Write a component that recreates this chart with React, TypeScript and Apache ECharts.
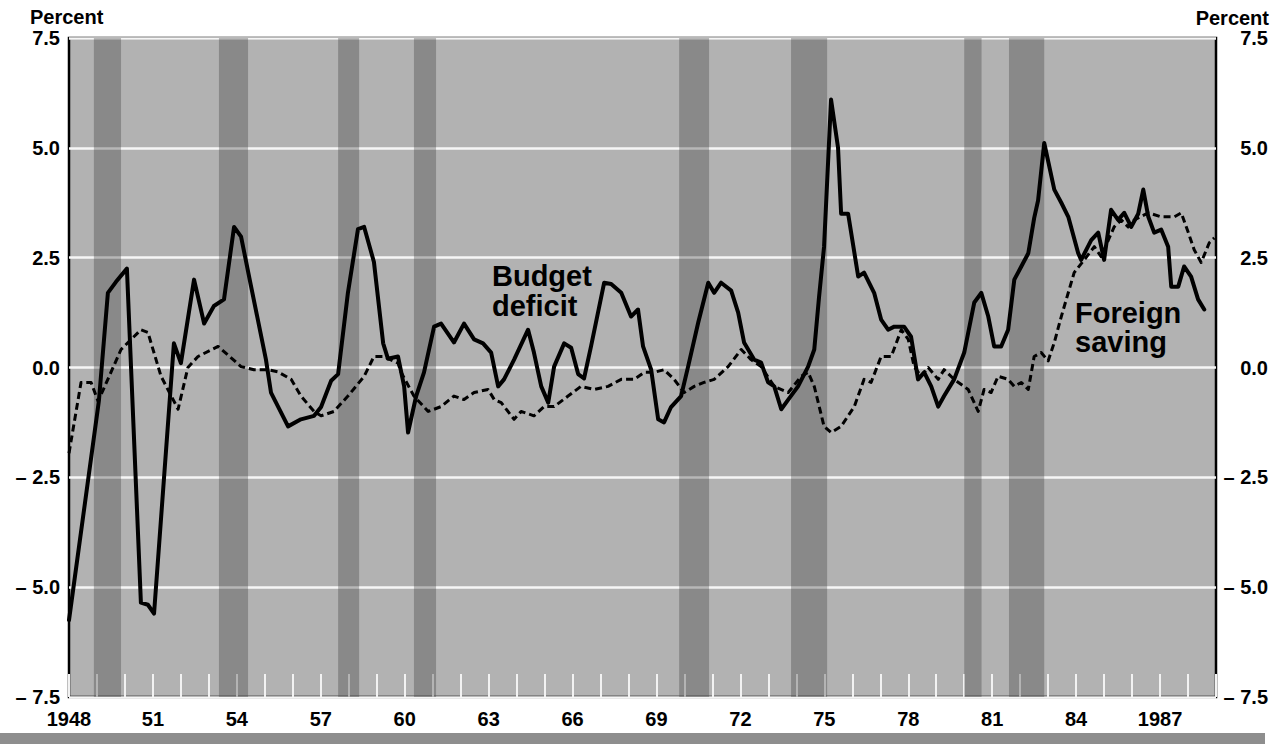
import React, { useEffect, useRef } from "react";
import * as echarts from "echarts";

const deficitYears = [1948.0,1949.07,1949.39,1949.68,1950.07,1950.57,1950.82,1951.04,1951.75,1952.0,
1952.47,1952.83,1953.18,1953.54,1953.9,1954.15,1954.51,1955.04,1955.22,1955.83,
1956.29,1956.76,1957.01,1957.37,1957.62,1957.97,1958.33,1958.55,1958.9,1959.23,
1959.4,1959.76,1959.98,1960.12,1960.41,1960.69,1961.05,1961.3,1961.76,1962.12,
1962.48,1962.8,1963.09,1963.34,1963.55,1963.91,1964.41,1964.62,1964.88,1965.13,
1965.34,1965.7,1965.95,1966.2,1966.41,1966.66,1967.13,1967.38,1967.74,1968.09,
1968.34,1968.52,1968.81,1969.06,1969.27,1969.52,1969.88,1970.13,1970.49,1970.85,
1971.06,1971.31,1971.67,1971.92,1972.13,1972.49,1972.74,1972.99,1973.21,1973.46,
1973.71,1974.06,1974.42,1974.64,1974.81,1974.99,1975.24,1975.49,1975.6,1975.85,
1976.21,1976.42,1976.78,1977.03,1977.28,1977.5,1977.85,1978.1,1978.35,1978.57,
1978.82,1979.07,1979.28,1979.64,1980.0,1980.36,1980.61,1980.86,1981.07,1981.32,
1981.57,1981.79,1982.04,1982.29,1982.5,1982.64,1982.86,1983.22,1983.47,1983.72,
1984.07,1984.18,1984.54,1984.79,1985.0,1985.25,1985.5,1985.72,1985.97,1986.22,
1986.4,1986.58,1986.79,1987.04,1987.29,1987.4,1987.65,1987.86,1988.11,1988.36,
1988.58];

const deficitValues = [-5.75,-0.75,1.7,1.95,2.25,-5.35,-5.4,-5.6,0.55,0.1,
2.0,1.0,1.4,1.55,3.2,2.98,1.84,0.18,-0.57,-1.34,
-1.18,-1.1,-0.9,-0.3,-0.15,1.7,3.15,3.2,2.4,0.55,
0.2,0.25,-0.43,-1.48,-0.65,-0.11,0.93,1.0,0.57,1.0,
0.64,0.55,0.34,-0.43,-0.27,0.18,0.86,0.34,-0.43,-0.8,
0.02,0.55,0.45,-0.15,-0.25,0.48,1.93,1.9,1.7,1.16,
1.32,0.48,-0.05,-1.18,-1.25,-0.9,-0.65,0.02,1.02,1.93,
1.7,1.93,1.75,1.25,0.57,0.18,0.11,-0.34,-0.43,-0.95,
-0.73,-0.43,0.02,0.41,1.6,2.75,6.1,5.0,3.5,3.5,
2.07,2.16,1.7,1.09,0.86,0.93,0.93,0.7,-0.27,-0.11,
-0.43,-0.89,-0.65,-0.27,0.34,1.48,1.7,1.16,0.48,0.48,
0.86,2.0,2.3,2.6,3.4,3.8,5.11,4.05,3.75,3.43,
2.61,2.45,2.9,3.07,2.45,3.59,3.36,3.52,3.2,3.5,
4.05,3.43,3.07,3.14,2.75,1.84,1.84,2.3,2.07,1.55,
1.32];

const savingYears = [1948.0,1948.43,1948.79,1949.04,1949.86,1950.57,1950.82,1951.29,1951.9,1952.25,
1952.61,1953.33,1954.15,1954.61,1955.11,1955.47,1955.94,1956.29,1956.76,1957.01,
1957.47,1957.97,1958.55,1958.9,1959.26,1959.76,1959.87,1960.33,1960.84,1961.3,
1961.76,1962.12,1962.48,1962.98,1963.2,1963.45,1963.91,1964.16,1964.62,1964.98,
1965.34,1965.84,1966.3,1966.77,1967.27,1967.74,1968.2,1968.56,1968.92,1969.27,
1969.63,1969.99,1970.35,1970.7,1971.06,1971.56,1972.03,1972.38,1972.74,1973.21,
1973.71,1974.17,1974.42,1974.64,1974.99,1975.24,1975.6,1976.07,1976.42,1976.67,
1977.03,1977.39,1977.75,1978.0,1978.21,1978.46,1978.71,1979.07,1979.28,1979.64,
1980.14,1980.5,1980.71,1980.96,1981.21,1981.57,1981.79,1982.04,1982.29,1982.5,
1982.75,1983.0,1983.22,1983.47,1983.93,1984.29,1984.65,1984.9,1985.15,1985.36,
1985.61,1985.86,1986.08,1986.58,1987.04,1987.51,1987.76,1988.01,1988.22,1988.47,
1988.76,1988.94];

const savingValues = [-1.95,-0.34,-0.34,-0.77,0.41,0.86,0.8,-0.2,-0.95,0.0,
0.25,0.48,0.02,-0.05,-0.05,-0.1,-0.27,-0.65,-1.0,-1.1,
-1.0,-0.65,-0.2,0.25,0.25,0.1,-0.11,-0.65,-1.0,-0.89,
-0.65,-0.73,-0.57,-0.5,-0.73,-0.8,-1.18,-1.0,-1.1,-0.89,
-0.89,-0.65,-0.43,-0.5,-0.43,-0.27,-0.27,-0.11,-0.11,-0.05,
-0.27,-0.57,-0.43,-0.34,-0.27,0.02,0.41,0.18,0.02,-0.43,
-0.57,-0.2,-0.11,-0.43,-1.34,-1.48,-1.34,-0.89,-0.27,-0.34,
0.25,0.25,0.86,0.64,0.02,-0.2,0.0,-0.27,-0.05,-0.27,
-0.5,-1.0,-0.5,-0.57,-0.2,-0.27,-0.43,-0.34,-0.5,0.25,
0.34,0.15,0.57,1.16,2.16,2.45,2.75,2.52,2.9,3.2,
3.36,3.2,3.36,3.52,3.43,3.43,3.52,3.07,2.68,2.39,
2.84,2.95];

const recessionStarts = [1948.89, 1953.36, 1957.62, 1960.33, 1969.81, 1973.81, 1980.0, 1981.6];
const recessionEnds = [1949.86, 1954.4, 1958.37, 1961.12, 1970.88, 1975.1, 1980.62, 1982.86];

const yearMin = 1948;
const yearMax = 1989;
const longLabelYears = [1948, 1987];

const FONT = '"Liberation Sans", Arial, Helvetica, sans-serif';

function fmtY(v: number): string {
  if (v < 0) return "\u2013 " + Math.abs(v).toFixed(1);
  return v.toFixed(1);
}

export default function App() {
  const ref = useRef<HTMLDivElement>(null);
  useEffect(() => {
    if (!ref.current) return;
    const chart = echarts.init(ref.current, null, { renderer: "svg" });
    const deficitData = deficitYears.map((y, i) => [y, deficitValues[i]]);
    const savingData = savingYears.map((y, i) => [y, savingValues[i]]);
    const bands = recessionStarts.map((s, i) => [{ xAxis: s }, { xAxis: recessionEnds[i] }]);
    const yAxisBase = {
      type: "value",
      min: -7.5,
      max: 7.5,
      interval: 2.5,
      axisLine: { show: false },
      axisTick: { show: false },
    };
    chart.setOption({
      animation: false,
      backgroundColor: "#ffffff",
      textStyle: { fontFamily: FONT },
      grid: {
        left: 69,
        right: 67,
        top: 38,
        bottom: 47,
        show: true,
        backgroundColor: "#b2b2b2",
        borderColor: "#000000",
        borderWidth: 2.5,
        containLabel: false,
      },
      xAxis: {
        type: "value",
        min: yearMin,
        max: yearMax,
        interval: 1,
        axisLine: { show: false, onZero: false },
        splitLine: { show: false },
        axisTick: {
          show: true,
          inside: true,
          length: 23,
          lineStyle: { color: "#f2f2f2", width: 2 },
        },
        axisLabel: {
          margin: 12,
          color: "#000",
          fontSize: 20,
          fontWeight: "bold",
          fontFamily: FONT,
          formatter: (v: number) => {
            const r = Math.round(v);
            if ((r - yearMin) % 3 !== 0 || r > 1987) return "";
            return longLabelYears.indexOf(r) >= 0 ? String(r) : String(r).slice(2);
          },
        },
      },
      yAxis: [
        {
          ...yAxisBase,
          position: "left",
          splitLine: { show: true, lineStyle: { color: "#f6f6f6", width: 2.5 } },
          axisLabel: {
            margin: 9,
            color: "#000",
            fontSize: 20,
            fontWeight: "bold",
            fontFamily: FONT,
            formatter: fmtY,
          },
        },
        {
          ...yAxisBase,
          position: "right",
          splitLine: { show: false },
          axisLabel: {
            margin: 52,
            align: "right",
            color: "#000",
            fontSize: 20,
            fontWeight: "bold",
            fontFamily: FONT,
            formatter: fmtY,
          },
        },
      ],
      series: [
        {
          name: "Budget deficit",
          type: "line",
          data: deficitData,
          showSymbol: false,
          symbol: "none",
          z: 3,
          lineStyle: { color: "#000", width: 4, join: "round", cap: "round" },
          markArea: {
            silent: true,
            z: 1,
            itemStyle: { color: "rgba(55,55,55,0.33)" },
            data: bands,
          },
        },
        {
          name: "Foreign saving",
          type: "line",
          data: savingData,
          showSymbol: false,
          symbol: "none",
          z: 2,
          lineStyle: { color: "#000", width: 3, type: [7, 4], join: "round" },
        },
      ],
      graphic: [
        {
          type: "rect",
          shape: { x: 0, y: 733, width: 1265, height: 11 },
          style: { fill: "#8e8e8e" },
          silent: true,
        },
        {
          type: "text",
          left: 30,
          top: 7,
          style: { text: "Percent", font: `bold 20px ${FONT}`, fill: "#000" },
        },
        {
          type: "text",
          right: 14,
          top: 8,
          style: { text: "Percent", font: `bold 20px ${FONT}`, fill: "#000" },
        },
        {
          type: "text",
          x: 492,
          y: 261,
          z: 10,
          style: {
            text: "Budget\ndeficit",
            font: `bold 29px ${FONT}`,
            lineHeight: 30,
            fill: "#000",
            verticalAlign: "top",
            align: "left",
          },
        },
        {
          type: "text",
          x: 1075,
          y: 298,
          z: 10,
          style: {
            text: "Foreign\nsaving",
            font: `bold 29px ${FONT}`,
            lineHeight: 29,
            fill: "#000",
            verticalAlign: "top",
            align: "left",
          },
        },
      ],
    });
    return () => chart.dispose();
  }, []);
  return (
    <div
      ref={ref}
      style={{ position: "fixed", left: 0, top: 0, width: 1283, height: 744 }}
    />
  );
}
